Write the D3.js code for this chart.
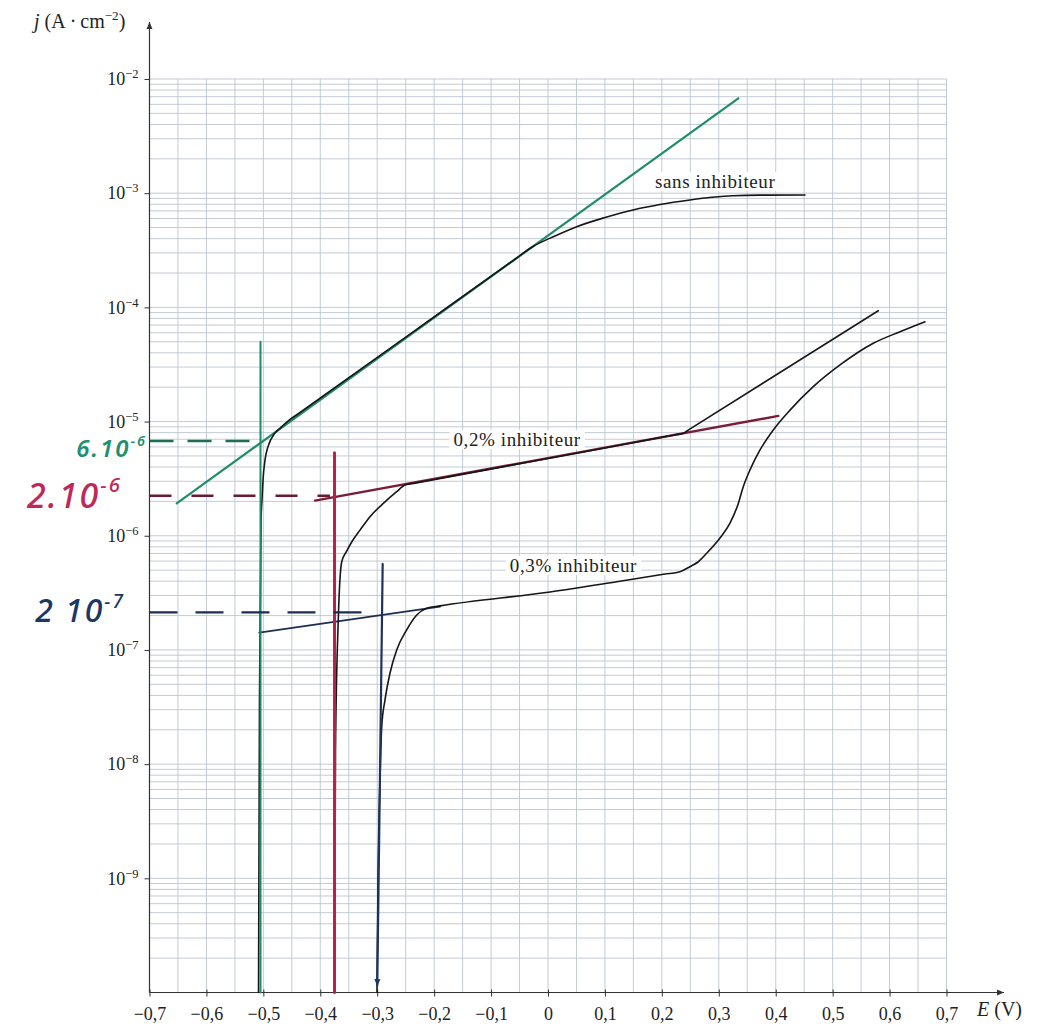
<!DOCTYPE html>
<html><head><meta charset="utf-8">
<script src="https://cdn.jsdelivr.net/npm/d3@7"></script>
<style>
html,body{margin:0;padding:0;background:#fff;}
svg{display:block;}
</style></head>
<body>
<svg id="chart" width="1039" height="1032"></svg>
<script>
// ---------- data (E in V, j in A/cm2) ----------
const E_sans = [-0.5085,-0.5068,-0.5041,-0.5024,-0.5006,-0.4971,-0.4918,-0.4796,-0.4708,-0.4567,-0.4356,-0.2424,-0.0580,-0.0264,0.0123,0.0504,0.1001,0.1493,0.1967,0.2494,0.2881,0.3249,0.3724,0.4514];
const j_sans = [1e-10,3.65e-8,1.37e-6,2.06e-6,3.08e-6,4.61e-6,6.03e-6,7.94e-6,8.73e-6,1.01e-5,1.20e-5,5.83e-5,2.64e-4,3.41e-4,4.22e-4,5.09e-4,6.12e-4,7.13e-4,7.96e-4,8.72e-4,9.20e-4,9.51e-4,9.62e-4,9.64e-4];

const E_02 = [-0.375,-0.3733,-0.3684,-0.3624,-0.3536,-0.3448,-0.3302,-0.3127,-0.2893,-0.2658,-0.2512,-0.2336,-0.007,0.2143,0.2276,0.2376,0.2476,0.5802];
const j_02 = [1e-10,1.33e-8,1.83e-7,5.89e-7,7.35e-7,8.82e-7,1.12e-6,1.47e-6,1.92e-6,2.43e-6,2.78e-6,2.89e-6,4.68e-6,7.50e-6,7.72e-6,7.89e-6,8.49e-6,9.35e-5];

const E_03 = [-0.3004,-0.2986,-0.2951,-0.2921,-0.2863,-0.2776,-0.2658,-0.2482,-0.2306,-0.2131,-0.1897,0.0035,0.1207,0.2055,0.2318,0.2494,0.2635,0.2787,0.3021,0.3197,0.3343,0.3430,0.3548,0.3724,0.3957,0.4251,0.4660,0.5129,0.5714,0.6183,0.6622];
const j_03 = [1e-10,9.67e-10,7.26e-9,2.13e-8,3.65e-8,6.25e-8,9.99e-8,1.50e-7,2.02e-7,2.32e-7,2.43e-7,3.22e-7,3.96e-7,4.62e-7,4.84e-7,5.36e-7,5.89e-7,7.02e-7,9.56e-7,1.29e-6,1.92e-6,2.69e-6,3.77e-6,5.64e-6,8.44e-6,1.26e-5,2.02e-5,3.13e-5,4.85e-5,6.12e-5,7.49e-5];

// hand-drawn Tafel tangents
const E_tanGreen = [-0.6522, 0.3343];
const j_tanGreen = [1.92e-6, 6.78e-3];
const E_tanRed = [-0.4093, 0.4045];
const j_tanRed = [2.03e-6, 1.12e-5];
const E_tanNavy = [-0.5071, -0.1897];
const j_tanNavy = [1.42e-7, 2.39e-7];

// hand-drawn verticals (E_corr)
const E_vertGreen = [-0.505, -0.505];
const j_vertGreen = [1e-10, 5.01e-5];
const E_vertRed = [-0.375, -0.375];
const j_vertRed = [1e-10, 5.34e-6];
const E_vertNavy = [-0.2999, -0.2904];
const j_vertNavy = [1.16e-10, 5.66e-7];

// hand-drawn dashed read-outs (j_corr)
const E_dashGreen = [-0.7, -0.505];
const j_dashGreen = [6.76e-6, 6.76e-6];
const E_dashRed = [-0.7, -0.383];
const j_dashRed = [2.24e-6, 2.24e-6];
const E_dashNavy = [-0.7, -0.307];
const j_dashNavy = [2.13e-7, 2.13e-7];

// ticks
const xTicks = [-0.7,-0.6,-0.5,-0.4,-0.3,-0.2,-0.1,0,0.1,0.2,0.3,0.4,0.5,0.6,0.7];
const xTickLabels = ["\u22120,7","\u22120,6","\u22120,5","\u22120,4","\u22120,3","\u22120,2","\u22120,1","0","0,1","0,2","0,3","0,4","0,5","0,6","0,7"];
const yTicks = [1e-2,1e-3,1e-4,1e-5,1e-6,1e-7,1e-8,1e-9];
const yTickExps = ["\u22122","\u22123","\u22124","\u22125","\u22126","\u22127","\u22128","\u22129"];

// ---------- scales ----------
const svg = d3.select("#chart");
const x = d3.scaleLinear().domain([-0.7, 0.7]).range([149.5, 946.5]);
const y = d3.scaleLog().domain([1e-10, 1e-2]).range([992.5, 79]);
const serif = "'Liberation Serif','Times New Roman',serif";
const hand = "'Noto Sans','DejaVu Sans',sans-serif";

svg.append("rect").attr("width",1039).attr("height",1032).attr("fill","#fff");

// ---------- grid ----------
const grid = svg.append("g").attr("stroke","#bcc5d0").attr("stroke-width",0.9);
const vGrid = d3.range(0, 29).map(i => -0.7 + i*0.05);
grid.selectAll("line.v").data(vGrid).join("line")
  .attr("x1", d => x(d)).attr("x2", d => x(d))
  .attr("y1", y(1e-2)).attr("y2", y(1e-10));
const hGrid = [];
for (let n = -10; n <= -3; n++) for (let k = 1; k <= 9; k++) hGrid.push(k*Math.pow(10,n));
hGrid.push(1e-2);
grid.selectAll("line.h").data(hGrid).join("line")
  .attr("x1", x(-0.7)).attr("x2", x(0.7))
  .attr("y1", d => y(d)).attr("y2", d => y(d));

// white boxes behind curve labels (sized later)
const boxLayer = svg.append("g");

// ---------- arrows ----------
const defs = svg.append("defs");
defs.append("marker").attr("id","arr").attr("viewBox","0 -4 8 8")
  .attr("refX",7).attr("refY",0).attr("markerWidth",8).attr("markerHeight",8)
  .attr("markerUnits","userSpaceOnUse").attr("orient","auto")
  .append("path").attr("d","M0,-3 L7,0 L0,3 Z").attr("fill","#333");
defs.append("marker").attr("id","arrNavy").attr("viewBox","0 -4 8 8")
  .attr("refX",6).attr("refY",0).attr("markerWidth",8).attr("markerHeight",8)
  .attr("markerUnits","userSpaceOnUse").attr("orient","auto")
  .append("path").attr("d","M0,-3 L7,0 L0,3 Z").attr("fill","#1c3462");

// axis lines
svg.append("line").attr("x1",x(-0.7)).attr("x2",1004).attr("y1",y(1e-10)).attr("y2",y(1e-10))
  .attr("stroke","#333").attr("stroke-width",1.2).attr("marker-end","url(#arr)");
svg.append("line").attr("x1",x(-0.7)).attr("x2",x(-0.7)).attr("y1",y(1e-10)).attr("y2",22)
  .attr("stroke","#333").attr("stroke-width",1.2).attr("marker-end","url(#arr)");

// axes
const gx = svg.append("g").attr("transform",`translate(0,${y(1e-10)})`)
  .call(d3.axisBottom(x).tickValues(xTicks).tickSize(4).tickPadding(11).tickFormat((d,i)=>xTickLabels[i]));
gx.select(".domain").remove();
gx.selectAll(".tick line").attr("stroke","#333").attr("y1",-3);
gx.selectAll(".tick text").attr("font-family",serif).attr("font-size",18).attr("fill","#222");

const gy = svg.append("g").attr("transform",`translate(${x(-0.7)},0)`)
  .call(d3.axisLeft(y).tickValues(yTicks).tickSize(5).tickPadding(6).tickFormat(""));
gy.select(".domain").remove();
gy.selectAll(".tick line").attr("stroke","#333");
gy.selectAll(".tick text").attr("font-family",serif).attr("font-size",18).attr("fill","#222")
  .each(function(d,i){
    const t = d3.select(this);
    t.text(null);
    t.append("tspan").text("10");
    t.append("tspan").attr("dy",-7).attr("font-size",12.5).text(yTickExps[i]);
  });

// axis titles
const jt = svg.append("text").attr("x",34).attr("y",28).attr("font-family",serif).attr("font-size",20).attr("fill","#222");
jt.append("tspan").attr("font-style","italic").text("j");
jt.append("tspan").text(" (A\u2009\u00b7\u2009cm");
jt.append("tspan").attr("dy",-8).attr("font-size",13).text("\u22122");
jt.append("tspan").attr("dy",8).text(")");
const et = svg.append("text").attr("x",977).attr("y",1016).attr("font-family",serif).attr("font-size",20).attr("fill","#222");
et.append("tspan").attr("font-style","italic").text("E");
et.append("tspan").text(" (V)");

// ---------- helpers ----------
const line = d3.line().x(d => x(d[0])).y(d => y(d[1]));
const smooth = d3.line().x(d => x(d[0])).y(d => y(d[1])).curve(d3.curveMonotoneX);
const zip = (a,b) => a.map((v,i)=>[v,b[i]]);
function draw(E, J, color, width, dash, marker, gen){
  const p = svg.append("path").datum(zip(E,J)).attr("d",gen || line)
    .attr("fill","none").attr("stroke",color).attr("stroke-width",width)
    .attr("stroke-linecap","round").attr("stroke-linejoin","round");
  if (dash) p.attr("stroke-dasharray",dash).attr("stroke-linecap","butt");
  if (marker) p.attr("marker-end",marker);
  return p;
}

// tangents under curves
draw(E_tanGreen, j_tanGreen, "#1f8c6c", 2.2);
draw(E_tanRed, j_tanRed, "#7a1d38", 2.4);
draw(E_tanNavy, j_tanNavy, "#1e2d52", 1.8);

// curves
draw(E_sans, j_sans, "#161616", 1.6, null, null, smooth);
draw(E_02, j_02, "#161616", 1.6, null, null, smooth);
draw(E_03, j_03, "#161616", 1.6, null, null, smooth);

// verticals
draw(E_vertGreen, j_vertGreen, "#1f8a6a", 2);
draw(E_vertRed, j_vertRed, "#b8214c", 3);
draw(E_vertNavy.slice().reverse(), j_vertNavy.slice().reverse(), "#1c3462", 2.2, null, "url(#arrNavy)");

// dashed read-outs
draw(E_dashGreen, j_dashGreen, "#1b6f56", 2.4, "24 14");
draw(E_dashRed, j_dashRed, "#6d1a30", 2.6, "22 20");
draw(E_dashNavy, j_dashNavy, "#1e2d52", 2.2, "28 18");

// ---------- curve labels ----------
const labels = [
  {t:"sans inhibiteur", E:0.188, j:1.11e-3},
  {t:"0,2% inhibiteur", E:-0.166, j:6.11e-6},
  {t:"0,3% inhibiteur", E:-0.067, j:4.82e-7}
];
labels.forEach(l => {
  const tx = svg.append("text").attr("x",x(l.E)).attr("y",y(l.j))
    .attr("font-family",serif).attr("font-size",19).attr("letter-spacing",0.6).attr("fill","#222").text(l.t);
  const b = tx.node().getBBox();
  boxLayer.append("rect").attr("x",b.x-4).attr("y",b.y+1).attr("width",b.width+8).attr("height",b.height-2).attr("fill","#fff");
});

// ---------- handwritten annotations ----------
function handNote(txt, exp, xr, jv, dy, size, color, weight){
  const t = svg.append("text").attr("x",xr).attr("y",y(jv)+dy).attr("text-anchor","end")
    .attr("font-family",hand).attr("font-style","italic").attr("font-weight",weight)
    .attr("font-size",size).attr("letter-spacing",2).attr("fill",color);
  t.append("tspan").text(txt);
  t.append("tspan").attr("dy",-size*0.45).attr("font-size",size*0.6).text(exp);
}
handNote("6.10", "-6", 147, 6.76e-6, 16, 24, "#1e9070", 600);
handNote("2.10", "-6", 122, 2.24e-6, 12, 34, "#c0285a", 500);
handNote("2 10", "-7", 125, 2.13e-7, 10, 32, "#1b3766", 500);
</script>
</body></html>
